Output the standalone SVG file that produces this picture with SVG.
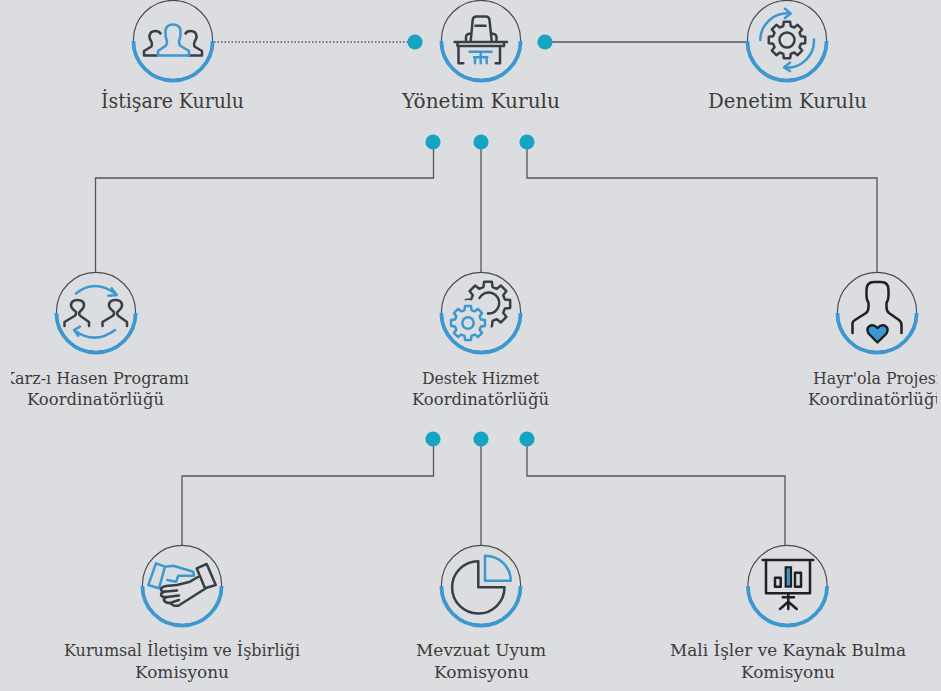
<svg xmlns="http://www.w3.org/2000/svg" width="941" height="691" viewBox="0 0 941 691">
<style>
.bg{fill:#dcdde0}
.ln{fill:none;stroke:#555557;stroke-width:1.3}
.dot{fill:#15a4c4}
.rim{fill:none;stroke:#4a4a4c;stroke-width:1.1}
.arc{fill:none;stroke:#3c98d0;stroke-width:3.8}
.d{fill:none;stroke:#373e45;stroke-width:2.5;stroke-linejoin:round;stroke-linecap:round}
.k{fill:none;stroke:#1f2124;stroke-width:2.5;stroke-linejoin:round;stroke-linecap:round}
.b{fill:none;stroke:#3c98d0;stroke-width:2.5;stroke-linejoin:round;stroke-linecap:round}
text{font-family:"DejaVu Serif","Liberation Serif",serif;fill:#3c3b3a;text-anchor:start}
.t1{font-size:20px}
.t2{font-size:17px}
</style>
<defs>
<g id="ring">
<circle class="rim" cx="0" cy="0" r="39.6"/>
<path class="arc" d="M-39.6 1A39.6 39.6 0 0 0 39.6 1"/>
</g>
<path id="gear" d="M-20.2 -75.3L-17.4 -98.5H17.4L20.2 -75.3L39 -67.5L57.4 -81.9L81.9 -57.4L67.5 -39L75.3 -20.2L98.5 -17.4V17.4L75.3 20.2L67.5 39L81.9 57.4L57.4 81.9L39 67.5L20.2 75.3L17.4 98.5H-17.4L-20.2 75.3L-39 67.5L-57.4 81.9L-81.9 57.4L-67.5 39L-75.3 20.2L-98.5 17.4V-17.4L-75.3 -20.2L-67.5 -39L-81.9 -57.4L-57.4 -81.9L-39 -67.5Z"/>
<clipPath id="cutBig"><path clip-rule="evenodd" d="M450 270H520V340H450ZM468 323m-23 0a23 23 0 1 0 46 0a23 23 0 1 0 -46 0Z"/></clipPath>
<clipPath id="clipL"><rect x="11" y="360" width="200" height="60"/></clipPath>
<clipPath id="clipR"><rect x="780" y="360" width="157" height="60"/></clipPath>
</defs>
<rect class="bg" width="941" height="691"/>

<g id="connectors">
<path class="ln" stroke-dasharray="1.5 2" d="M214 42H415"/>
<path class="ln" d="M545 42H747"/>
<path class="ln" d="M433.500 142V178H95.500V272"/>
<path class="ln" d="M481 142V272"/>
<path class="ln" d="M527 142V178H877V272"/>
<path class="ln" d="M433.500 439V476H182V545"/>
<path class="ln" d="M481 439V545"/>
<path class="ln" d="M527 439V476H785V545"/>
<circle class="dot" cx="415" cy="42" r="7.600"/>
<circle class="dot" cx="545" cy="42" r="7.600"/>
<circle class="dot" cx="433" cy="142" r="7.600"/>
<circle class="dot" cx="481" cy="142" r="7.600"/>
<circle class="dot" cx="527" cy="142" r="7.600"/>
<circle class="dot" cx="433" cy="439" r="7.600"/>
<circle class="dot" cx="481" cy="439" r="7.600"/>
<circle class="dot" cx="527" cy="439" r="7.600"/>
</g>

<g id="istisare">
<use href="#ring" x="173" y="40"/>
<path class="d" d="M157 55.500H144V51L151.500 46.500Q152.500 44 151.500 42Q149 38 149.500 36Q150 31 155.500 31Q159 31 160.500 33.500"/>
<path class="d" d="M189 55.500H202V51L194.500 46.500Q193.500 44 194.500 42Q197 38 196.500 36Q196 31 190.500 31Q187 31 185.500 33.500"/>
<path class="b" d="M158 55.500V51L166 45.500Q167 44 167 41Q165 37 165.500 31Q166 24.500 173 24.500Q180 24.500 180.500 31Q181 37 179 41Q179 44 180 45.500L189 51V55.500Z"/>
<text class="t1" x="101" y="108" textLength="143" lengthAdjust="spacingAndGlyphs">İstişare Kurulu</text>
</g>

<g id="yonetim">
<use href="#ring" x="481" y="40"/>
<path class="d" d="M470.700 41L472.700 20Q473 16.500 476.500 16.500H486Q489 16.500 489.500 20L491.700 41M475.500 25.700H485.500M466 41V37Q466 34 470.500 33.500M496.500 41V37Q496.500 34 491.500 33.500M454.500 42H507M457.500 42V46H504V42M458.500 46V63.300H463.300M500 46V63.300H495.700"/>
<path class="b" d="M469.500 51.700H491.500M474 57.300H487.300M475 57.300V63.300M480.700 52V63.300M486.700 57.300V63.300"/>
<text class="t1" x="402" y="108" textLength="158" lengthAdjust="spacingAndGlyphs">Yönetim Kurulu</text>
</g>

<g id="denetim">
<use href="#ring" x="787" y="40"/>
<use href="#gear" class="d" transform="translate(787 40) scale(.185)" style="stroke-width:13.500"/>
<circle class="d" cx="787" cy="40" r="7.500"/>
<path class="b" d="M760.300 40A27 27 0 0 1 790 13.500M785 8.800L790.700 13.500L785 18M814 39.500A27 27 0 0 1 784 67.500M790 62.500L784 67.500L790 71"/>
<text class="t1" x="708" y="108" textLength="159" lengthAdjust="spacingAndGlyphs">Denetim Kurulu</text>
</g>

<g id="karz">
<use href="#ring" x="96" y="312"/>
<path class="d" d="M64.500 326V322L74.500 316Q76.500 314.500 76 312Q71 308 71 305.500Q71 300 77.500 300Q84 300 84 305.500Q84 308 79.500 312Q78.500 314.500 80.500 316L89 322V326"/>
<path class="d" d="M102.500 326V322L112.500 316Q114.500 314.500 114 312Q109 308 109 305.500Q109 300 115.500 300Q122 300 122 305.500Q122 308 117.500 312Q116.500 314.500 118.500 316L127 322V326"/>
<path class="b" d="M76 293.500Q95 278 116.500 294.500M111.700 288.300L116.700 295L108.300 295.700M115 330Q95 345 74.500 330.500M80 326.700L74 330L78.300 335.700"/>
<g clip-path="url(#clipL)">
<text class="t2" x="3" y="384" textLength="186" lengthAdjust="spacingAndGlyphs">Karz-ı Hasen Programı</text>
</g>
<text class="t2" x="27" y="405" textLength="137" lengthAdjust="spacingAndGlyphs">Koordinatörlüğü</text>
</g>

<g id="destek">
<use href="#ring" x="481" y="312"/>
<g clip-path="url(#cutBig)">
<use href="#gear" class="d" transform="translate(488 304) scale(.225)" style="stroke-width:11"/>
</g>
<path class="d" d="M479.500 298A10.500 10.500 0 1 1 488 313.500"/>
<use href="#gear" class="b" transform="translate(468 323) scale(.172)" style="stroke-width:14.500"/>
<circle class="b" cx="468" cy="323" r="5.700"/>
<text class="t2" x="422" y="384" textLength="117" lengthAdjust="spacingAndGlyphs">Destek Hizmet</text>
<text class="t2" x="412" y="405" textLength="137" lengthAdjust="spacingAndGlyphs">Koordinatörlüğü</text>
</g>

<g id="hayrola">
<use href="#ring" x="877" y="312"/>
<path class="k" d="M852.500 333V323Q853 321 855 320L866 313Q868.500 311 868.500 307V303Q866.500 300 866.500 296V290Q866.500 282 874 282H881Q888.500 282 888.500 290V296Q888.500 300 886.500 303V307Q886.500 311 889 313L899 320Q901.500 322 901.500 325V333"/>
<path d="M877.500 342.500L868.500 333.500Q866 329 869 326.500Q873 323.500 877.500 328Q882 323.500 886 326.500Q889 329 886.500 333.500Z" fill="#3c98d0" stroke="#1b1d20" stroke-width="2.400" stroke-linejoin="round"/>
<g clip-path="url(#clipR)">
<text class="t2" x="813" y="384" textLength="128" lengthAdjust="spacingAndGlyphs">Hayr'ola Projesi</text>
<text class="t2" x="808" y="405" textLength="137" lengthAdjust="spacingAndGlyphs">Koordinatörlüğü</text>
</g>
</g>

<g id="kurumsal">
<use href="#ring" x="182" y="585"/>
<path class="b" d="M156 563.300L165 566.700L159 588.300L148.300 585ZM165 566.700L173.300 565.700L193.300 571.700L194 575.700H178.300L176 581.700L167.300 580"/>
<path class="d" d="M196.700 568.300L206.700 564L215.700 585L205 588.300ZM206.700 587.700L178.300 605.700H174L170 603.300M198 577L190 581.700L177 585L166 586Q161 587 161 589.500Q161 592 166 591.500L177 590.500M166 591.500Q160.500 592.500 161 595Q161.500 597.500 167 597L179 595.500M167 597Q163 598.500 164 600.500Q165.500 603 170 603L179 600"/>
<text class="t2" x="64" y="656" textLength="236" lengthAdjust="spacingAndGlyphs">Kurumsal İletişim ve İşbirliği</text>
<text class="t2" x="135" y="678" textLength="94" lengthAdjust="spacingAndGlyphs">Komisyonu</text>
</g>

<g id="mevzuat">
<use href="#ring" x="481" y="585"/>
<path class="d" d="M478.300 587.300V561.200A26.200 26.200 0 1 0 504.500 587.300Z"/>
<path class="b" d="M485 580.700V555.700A25.500 25 0 0 1 510.700 580.700Z"/>
<text class="t2" x="416" y="656" textLength="130" lengthAdjust="spacingAndGlyphs">Mevzuat Uyum</text>
<text class="t2" x="434" y="678" textLength="95" lengthAdjust="spacingAndGlyphs">Komisyonu</text>
</g>

<g id="mali">
<use href="#ring" x="787.500" y="585"/>
<path class="k" d="M762.700 560H813.300M766 560V593.300H810V560M788.300 594V609M782.700 597.300H794M788.300 601.700L780 609M788.300 601.700L796.700 609"/>
<rect class="k" x="775" y="577.700" width="5.700" height="9"/>
<rect x="785.700" y="567.300" width="5.300" height="19.300" fill="#3c98d0" stroke="#1f2124" stroke-width="2.200"/>
<rect class="k" x="795" y="572.700" width="6" height="14"/>
<text class="t2" x="670" y="656" textLength="236" lengthAdjust="spacingAndGlyphs">Mali İşler ve Kaynak Bulma</text>
<text class="t2" x="741" y="678" textLength="94" lengthAdjust="spacingAndGlyphs">Komisyonu</text>
</g>
</svg>
